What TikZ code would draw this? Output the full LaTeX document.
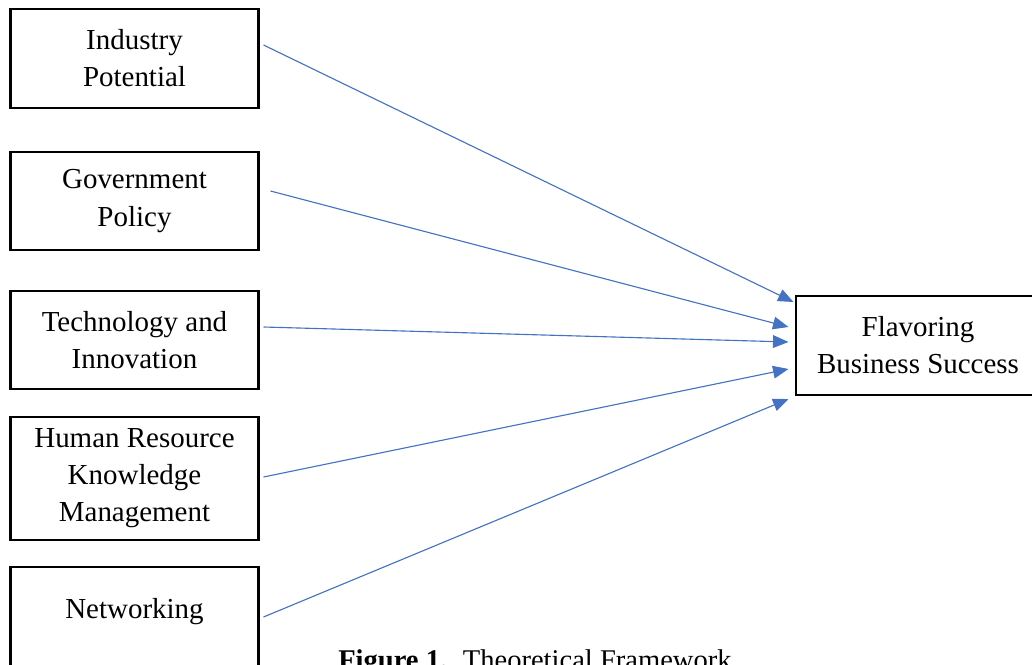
\documentclass[tikz,border=0pt]{standalone}
\usepackage{fontspec}
\setmainfont{Liberation Serif}
\usepackage{tikz}
\usetikzlibrary{
	calc,
	arrows.meta
	}
\definecolor{arrowblue}{HTML}{4472C4}

\begin{document}
\begin{tikzpicture}[x=0.025cm,y=0.025cm,
	box/.style={draw,line width=2.1pt,minimum width=6.175cm,align=center,inner sep=2pt,font=\fontsize{20.6}{26.4}\selectfont},
	link/.style={draw=arrowblue,line width=0.8pt,-{Triangle[length=11pt,width=9pt]}}]
	\path[use as bounding box,clip] (0,0) rectangle (1032,-664);
	% factors
	\node[box,minimum height=2.475cm] (industry) at (134.5,-58.5) {Industry\\Potential};
	\node[box,minimum height=2.45cm] (policy) at (134.5,-201) {Government\\Policy};
	\node[box,minimum height=2.45cm] (techno) at (134.5,-340) {Technology and\\Innovation};
	\node[box,minimum height=3.075cm] (human) at (134.5,-478.5) {Human Resource\\Knowledge\\Management};
	\node[box,minimum height=3cm] (network) at (134.5,-627) {Networking\\ \mbox{}};
	% outcome
	\node[box,minimum width=6.1cm,minimum height=2.475cm] (flavor) at (918,-345.5) {Flavoring\\Business Success};
	% links
	\draw[link] ($(industry.east)+(4,13.5)$) -- ($(flavor.west)+(-1,43.5)$);
	\draw[link] ($(policy.east)+(11,10)$) -- ($(flavor.west)+(-6,18.5)$);
	\draw[link] ($(techno.east)+(4,13)$) -- ($(flavor.west)+(-6,3.5)$);
	\draw[link] ($(human.east)+(4,1.5)$) -- ($(flavor.west)+(-6,-23.5)$);
	\draw[link] ($(network.east)+(4,10)$) -- ($(flavor.west)+(-6,-53.5)$);
	% caption
	\node[anchor=base west,inner sep=0pt,font=\fontsize{20.3}{26}\selectfont] (caption) at (338,-669) {\textbf{Figure 1.}\hspace{0.55em}Theoretical Framework};
\end{tikzpicture}
\end{document}
